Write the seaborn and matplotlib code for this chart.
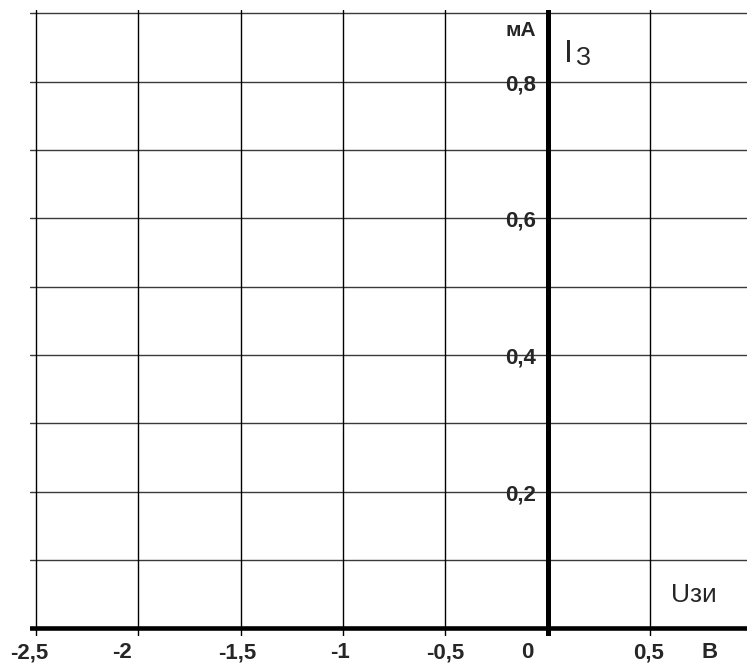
import matplotlib
matplotlib.use("Agg")
import matplotlib.pyplot as plt
import matplotlib.transforms as mtransforms
import seaborn as sns

# grid values
x_grid = [-2.5, -2.0, -1.5, -1.0, -0.5, 0.5]
y_grid = [0.1, 0.2, 0.3, 0.4, 0.5, 0.6, 0.7, 0.8, 0.9]

# tick labels
x_ticks = [-2.5, -2.0, -1.5, -1.0, -0.5, 0.0, 0.5]
x_labels = ['-2,5', '-2', '-1,5', '-1', '-0,5', '0', '0,5']
x_shift = [-7, -16, -4, -3, 0, -20, -1]   # pixel nudges as in the drawing
y_ticks = [0.2, 0.4, 0.6, 0.8]
y_labels = ['0,2', '0,4', '0,6', '0,8']

sns.set_style("white")
plt.rcParams['font.family'] = ['Liberation Sans', 'DejaVu Sans']

fig = plt.figure(figsize=(7.47, 6.66), dpi=100)
ax = fig.add_axes([30 / 747, 30 / 666, 717 / 747, 626 / 666])
ax.set_xlim(-2.53, 0.974)
ax.set_ylim(-0.011, 0.905)

for y in y_grid:
    ax.axhline(y, color='#3a3a3a', lw=1.0, zorder=1)
for x in x_grid:
    ax.axvline(x, color='black', lw=1.0, zorder=1)

# thick axes
ax.axhline(0, color='black', lw=3.3, zorder=3)
ax.axvline(0, color='black', lw=3.6, zorder=3)

for s in ax.spines.values():
    s.set_visible(False)
ax.set_xticks([])
ax.set_yticks([])

# x labels under the axis
for v, lab, dx in zip(x_ticks, x_labels, x_shift):
    tr = mtransforms.offset_copy(ax.transData, fig=fig, x=dx, y=0, units='dots')
    tr = mtransforms.blended_transform_factory(tr, fig.transFigure)
    ax.text(v, 13 / 666, lab, transform=tr, ha='center', va='center',
            fontsize=16, fontweight='bold')
ax.text(710 / 747, 13 / 666, 'В', transform=fig.transFigure, ha='center',
        va='center', fontsize=16, fontweight='bold')

# y labels next to the vertical axis
tr_y = mtransforms.offset_copy(ax.transData, fig=fig, x=-12, y=-3, units='dots')
for v, lab in zip(y_ticks, y_labels):
    ax.text(0, v, lab, transform=tr_y, ha='right', va='center',
            fontsize=16, fontweight='bold')
ax.text(0, 0.879, 'мА', transform=tr_y, ha='right', va='center',
        fontsize=15, fontweight='bold')

# axis names
ax.text(564 / 747, 1 - 62 / 666, 'I', transform=fig.transFigure,
        ha='left', va='baseline', fontsize=23)
ax.text(575 / 747, 1 - 65 / 666, 'З', transform=fig.transFigure,
        ha='left', va='baseline', fontsize=18)
ax.text(671 / 747, 1 - 602 / 666, 'Uзи', transform=fig.transFigure,
        ha='left', va='baseline', fontsize=19)

fig.savefig('out.png', dpi=100)
